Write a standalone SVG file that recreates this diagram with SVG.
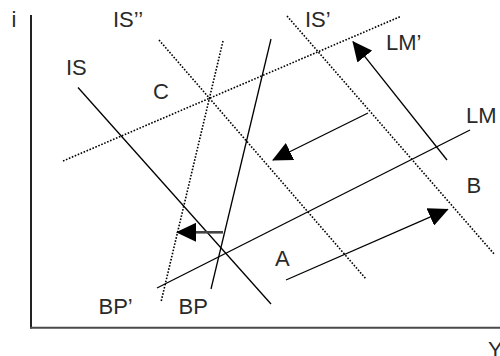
<svg xmlns="http://www.w3.org/2000/svg" width="500" height="356" viewBox="0 0 500 356">
<style>
.t{font-family:"Liberation Sans",Arial,sans-serif;font-size:22px;fill:#2a2a2a}
.s{stroke:#000;stroke-width:1.3;fill:none}
.d{stroke:#000;stroke-width:1.6;fill:none;stroke-dasharray:1.6 1.6}
.a{stroke:#000;stroke-width:1.3;fill:none;marker-end:url(#ah)}
</style>
<defs>
<marker id="ah" markerUnits="userSpaceOnUse" viewBox="0 0 20 19" markerWidth="20" markerHeight="19" refX="19" refY="9.5" orient="auto">
<path d="M0,0 L20,9.5 L0,19 z" fill="#000"/>
</marker>
</defs>
<g id="axes">
<line x1="31" y1="15" x2="31" y2="328.5" stroke="#222" stroke-width="2"/>
<line x1="30" y1="327.7" x2="500" y2="327.7" stroke="#4a4a4a" stroke-width="2"/>
</g>
<g id="curves">
<line id="IS" class="s" x1="78" y1="87.5" x2="271" y2="304"/>
<line id="ISpp" class="d" x1="159" y1="40" x2="366" y2="279"/>
<line id="ISp" class="d" x1="287" y1="16" x2="495" y2="255"/>
<line id="LMp" class="d" x1="63" y1="161" x2="400" y2="16.7"/>
<line id="LM" class="s" x1="157" y1="288" x2="470" y2="130"/>
<line id="BP" class="s" x1="271" y1="39" x2="211" y2="289"/>
<line id="BPp" class="d" x1="223" y1="41" x2="161" y2="302"/>
</g>
<g id="connectors">
<line class="a" x1="368" y1="113" x2="273" y2="160"/>
<line class="a" x1="447" y1="160" x2="353" y2="41.7"/>
<line class="a" x1="286" y1="280" x2="447.7" y2="209.3"/>
<line x1="223" y1="232.3" x2="195" y2="232.3" stroke="#444" stroke-width="2.6"/>
<line class="a" x1="196" y1="232.3" x2="177" y2="232.3" stroke-width="1"/>
</g>
<g id="labels">
<text class="t" x="11.5" y="26.5">i</text>
<text class="t" x="113" y="26.5">IS’’</text>
<text class="t" x="305" y="26.5">IS’</text>
<text class="t" x="66" y="75">IS</text>
<text class="t" x="153" y="98.5">C</text>
<text class="t" x="386" y="50">LM’</text>
<text class="t" x="466" y="123">LM</text>
<text class="t" x="466.5" y="193">B</text>
<text class="t" x="275" y="266">A</text>
<text class="t" x="98.5" y="314">BP’</text>
<text class="t" x="178.5" y="314">BP</text>
<text class="t" x="488" y="357">Y</text>
</g>
</svg>
